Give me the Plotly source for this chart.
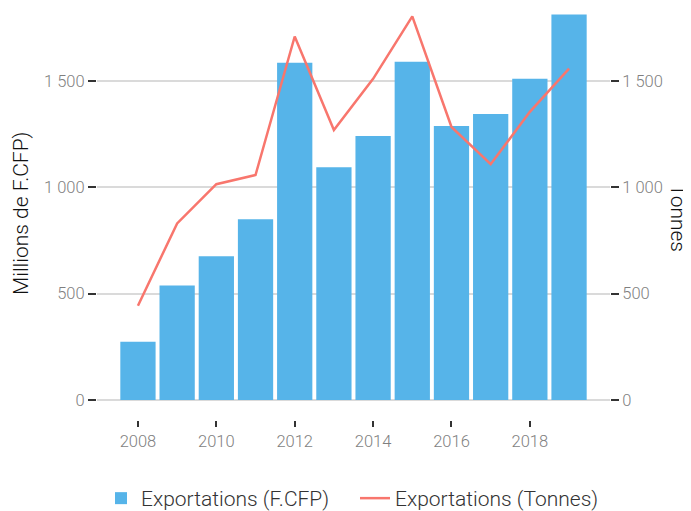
import plotly.graph_objects as go

years = [2008, 2009, 2010, 2011, 2012, 2013, 2014, 2015, 2016, 2017, 2018, 2019]
export_fcfp = [274, 538, 675, 849, 1585, 1094, 1241, 1590, 1288, 1344, 1509, 1812]
export_tonnes = [443, 830, 1014, 1057, 1708, 1269, 1509, 1803, 1283, 1108, 1354, 1557]

x_tickvals = [2008, 2010, 2012, 2014, 2016, 2018]
y_tickvals = [0, 500, 1000, 1500]
y_ticktext = ["0", "500", "1 000", "1 500"]

bar_name = "Exportations (F.CFP)"
line_name = "Exportations (Tonnes)"
left_title = "Millions de F.CFP)"
right_title = "Tonnes"

BLUE = "#56B4E9"
RED = "#F8766D"
GRID = "#DADADA"
TICK_FONT = dict(family="Roboto", size=16.5, color="#7F7F7F", weight=300)
TITLE_FONT = dict(family="Roboto", size=21, color="#111111", weight=300)

# page body has an 8px margin: the figure is drawn 8px right/down of the window corner
W, H = 683, 503
yrange = [-94, 1842]
L, R, T, B = 89, 81, 0, 91
pw = W - L - R
ph = H - T - B

fig = go.Figure()
fig.add_trace(go.Bar(x=years, y=export_fcfp, name=bar_name, marker=dict(color=BLUE, line=dict(width=0)),
                     width=0.9, yaxis="y"))
fig.add_trace(go.Scatter(x=years, y=export_tonnes, name=line_name, mode="lines",
                         line=dict(color=RED, width=2.5), yaxis="y2"))

fig.update_layout(
    width=W, height=H,
    margin=dict(l=L, r=R, t=T, b=B, autoexpand=False),
    paper_bgcolor="white", plot_bgcolor="white",
    font=dict(family="Roboto", color="#333333"),
    showlegend=True,
    legend=dict(orientation="h", x=(93 - L) / pw, xanchor="left", y=-(470 - (H - B)) / ph, yanchor="top",
                font=dict(family="Roboto", size=21, color="#333333", weight=300),
                itemwidth=30, traceorder="normal", entrywidth=209, entrywidthmode="pixels"),
    xaxis=dict(range=[2006.955, 2020.045], tickvals=x_tickvals, ticks="outside", ticklen=6,
               tickwidth=2, tickcolor="#333333", showgrid=False, zeroline=False,
               showline=False, tickfont=TICK_FONT, automargin=False),
    yaxis=dict(range=yrange, tickvals=y_tickvals, ticktext=y_ticktext, ticks="outside",
               ticklen=8, tickwidth=2, tickcolor="#333333", showgrid=True, gridcolor=GRID,
               gridwidth=2, zeroline=False, showline=False, tickfont=TICK_FONT,
               automargin=False),
    yaxis2=dict(range=yrange, tickvals=y_tickvals, ticktext=y_ticktext, overlaying="y",
                side="right", ticks="outside", ticklen=8, tickwidth=2, tickcolor="#333333",
                showgrid=False, zeroline=False, showline=False, tickfont=TICK_FONT,
                automargin=False),
    annotations=[
        dict(text=left_title, textangle=-90, x=(13 - L) / pw, xref="paper", y=0.5, yref="paper",
             xanchor="center", yanchor="middle", showarrow=False, font=TITLE_FONT),
        dict(text=right_title, textangle=90, x=(670 - L) / pw, xref="paper", y=0.49,
             yref="paper", yanchor="middle", xanchor="center", showarrow=False, font=TITLE_FONT),
    ],
)

fig.write_html("out.html")
